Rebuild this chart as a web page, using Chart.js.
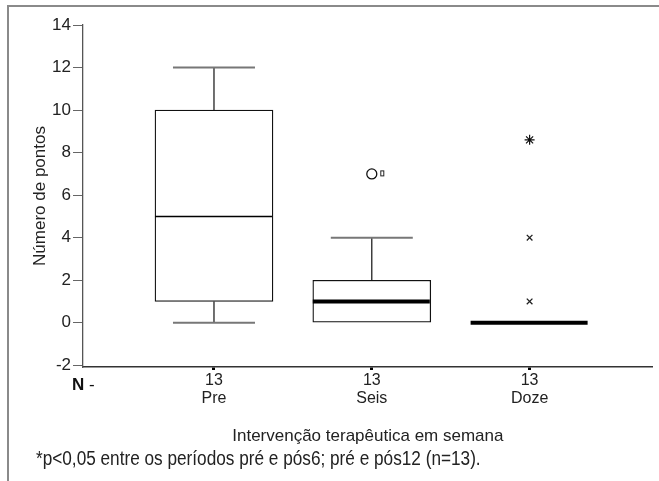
<!DOCTYPE html>
<html lang="pt">
<head>
<meta charset="utf-8">
<script src="https://cdn.jsdelivr.net/npm/chart.js@4.4.1/dist/chart.umd.min.js"></script>
<style>
  html, body { margin: 0; padding: 0; background: #fff; }
  #wrap { position: relative; width: 659px; height: 481px; overflow: hidden; }
  #frame { position: absolute; left: 7px; top: 5px; right: -10px; bottom: -10px;
           border-top: 2px solid #8a8a8a; border-left: 2px solid #8a8a8a; }
  canvas { position: absolute; left: 0; top: 0; }
  #rotuloN { position: absolute; left: 72px; top: 375px; color: #111;
             font: 17px "Liberation Sans", Arial, sans-serif; white-space: nowrap; }
  #rotuloN b { font-weight: bold; }
  #nota { position: absolute; left: 36px; top: 447px; color: #222; white-space: nowrap;
          font: 20px "Liberation Sans", Arial, sans-serif;
          transform: scaleX(0.86); transform-origin: left top; }
</style>
</head>
<body>
<div id="wrap">
  <div id="frame"></div>
  <canvas id="grafico" width="659" height="481"></canvas>
  <div id="rotuloN"><b>N</b> -</div>
  <div id="nota">*p&lt;0,05 entre os períodos pré e pós6; pré e pós12 (n=13).</div>
</div>
<script>
// ─── DADOS ────────────────────────────────────────────────
const categorias = ['Pre', 'Seis', 'Doze'];
const nCasos     = [13, 13, 13];
const minimos    = [0, 0, 0];
const quartil1   = [1, 0, 0];
const medianas   = [5, 1, 0];
const quartil3   = [10, 2, 0];
const maximos    = [12, 4, 0];
const outliersCirculo  = [{ x: 2, y: 7 }];
const outliersExtremos = [{ x: 3, y: 8.6 }];
const outliersCruz     = [{ x: 3, y: 4 }, { x: 3, y: 1 }];
const ticksY = [-2, 0, 2, 4, 6, 8, 10, 12, 14];

// estilo das medianas (a primeira sai fina no original)
const espessuraMediana = [1.5, 4, 4];

const fonte = '"Liberation Sans", Arial, sans-serif';

// Bigodes, tampas e medianas desenhados com as escalas do Chart.js
const boxPlugin = {
  id: 'boxPlot',
  afterDatasetsDraw(chart) {
    const { ctx, scales: { x, y } } = chart;
    const metaBox = chart.getDatasetMeta(0);
    categorias.forEach((c, i) => {
      const px   = x.getPixelForValue(i + 1);
      const half = metaBox.data[i].width / 2;
      const capHalf = 41;
      ctx.save();
      const bigode = (de, ate) => {
        ctx.strokeStyle = '#111';
        ctx.lineWidth = 1.2;
        ctx.beginPath();
        ctx.moveTo(px, y.getPixelForValue(de));
        ctx.lineTo(px, y.getPixelForValue(ate));
        ctx.stroke();
        ctx.strokeStyle = '#777';
        ctx.lineWidth = 2;
        ctx.beginPath();
        ctx.moveTo(px - capHalf, y.getPixelForValue(ate));
        ctx.lineTo(px + capHalf, y.getPixelForValue(ate));
        ctx.stroke();
      };
      if (maximos[i] > quartil3[i]) bigode(quartil3[i], maximos[i]);
      if (minimos[i] < quartil1[i]) bigode(quartil1[i], minimos[i]);
      ctx.strokeStyle = '#000';
      ctx.lineWidth = espessuraMediana[i];
      ctx.beginPath();
      ctx.moveTo(px - half, y.getPixelForValue(medianas[i]));
      ctx.lineTo(px + half - 1, y.getPixelForValue(medianas[i]));
      ctx.stroke();
      ctx.restore();
    });
    // pequeno rótulo de caso junto aos círculos
    const metaCirc = chart.getDatasetMeta(1);
    metaCirc.data.forEach(p => {
      ctx.save();
      ctx.strokeStyle = '#222';
      ctx.lineWidth = 1;
      ctx.strokeRect(p.x + 9, p.y - 3, 3, 5);
      ctx.restore();
    });
  }
};

new Chart(document.getElementById('grafico'), {
  type: 'bar',
  data: {
    datasets: [
      {
        type: 'bar',
        label: 'Intervalo interquartil',
        data: categorias.map((c, i) => ({ x: i + 1, y: [quartil1[i], quartil3[i]] })),
        backgroundColor: '#fff',
        borderColor: '#111',
        borderWidth: 1.3,
        borderSkipped: false,
        barThickness: 118,
        grouped: false,
        order: 2,
      },
      {
        type: 'scatter',
        label: 'Outliers',
        data: outliersCirculo,
        pointStyle: 'circle',
        pointRadius: 5,
        backgroundColor: '#fff',
        borderColor: '#111',
        borderWidth: 1.3,
        order: 1,
      },
      {
        type: 'scatter',
        label: 'Extremos',
        data: outliersExtremos,
        pointStyle: 'star',
        pointRadius: 5,
        borderColor: '#111',
        borderWidth: 1.2,
        order: 1,
      },
      {
        type: 'scatter',
        label: 'Casos',
        data: outliersCruz,
        pointStyle: 'crossRot',
        pointRadius: 4,
        borderColor: '#222',
        borderWidth: 1.3,
        order: 1,
      },
    ],
  },
  options: {
    responsive: false,
    animation: false,
    layout: { padding: { left: 0, top: 25, right: 6, bottom: 34 } },
    plugins: { legend: { display: false }, tooltip: { enabled: false } },
    scales: {
      x: {
        type: 'linear',
        min: 0.17,
        max: 3.78,
        offset: false,
        afterBuildTicks: s => { s.ticks = categorias.map((c, i) => ({ value: i + 1 })); },
        afterFit: s => { s.height = 80; },
        grid: { display: true, offset: false, drawOnChartArea: false, tickLength: 3, tickWidth: 3, tickColor: '#000' },
        border: { color: '#333', width: 1.5 },
        ticks: {
          padding: 1,
          color: '#222',
          font: { family: fonte, size: 16, lineHeight: 1.15 },
          callback: v => [String(nCasos[v - 1]), categorias[v - 1]],
        },
        title: {
          display: true,
          text: 'Intervenção terapêutica em semana',
          color: '#222',
          font: { family: fonte, size: 17 },
          padding: { top: 0, bottom: 0 },
        },
      },
      y: {
        type: 'linear',
        min: -2.08,
        max: 14,
        afterBuildTicks: s => { s.ticks = ticksY.map(v => ({ value: v })); },
        afterFit: s => { s.width = 83; },
        grid: { display: true, drawOnChartArea: false, tickLength: 10, tickWidth: 1, tickColor: '#666' },
        border: { color: '#555', width: 1.3 },
        ticks: { padding: 2, color: '#222', font: { family: fonte, size: 17 } },
        title: {
          display: true,
          text: 'Número de pontos',
          color: '#222',
          font: { family: fonte, size: 17 },
          padding: { top: 30, bottom: 0 },
        },
      },
    },
  },
  plugins: [boxPlugin],
});
</script>
</body>
</html>
